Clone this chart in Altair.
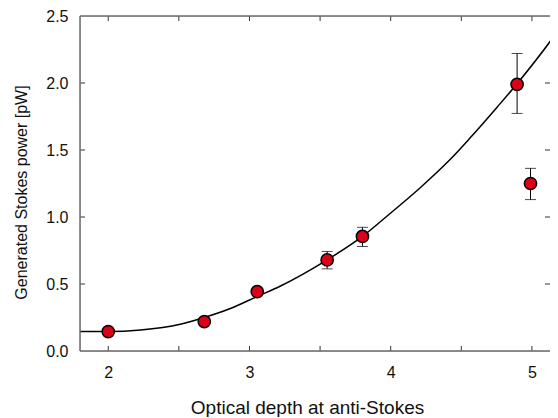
import altair as alt
import pandas as pd

# measured points
pt_x = [2.00, 2.68, 3.055, 3.55, 3.80, 4.895, 4.99]
pt_y = [0.145, 0.22, 0.443, 0.68, 0.855, 1.99, 1.25]

# error bars (only where visible)
err_x = [3.55, 3.80, 4.895, 4.99]
err_lo = [0.613, 0.780, 1.773, 1.13]
err_hi = [0.743, 0.923, 2.22, 1.363]

# fitted curve
curve_x = [1.80, 2.00, 2.23, 2.51, 2.68, 2.86, 3.05, 3.22, 3.55, 3.80, 4.00, 4.205, 4.417, 4.558, 4.758, 4.895, 5.17, 5.20]
curve_y = [0.145, 0.145, 0.157, 0.20, 0.25, 0.315, 0.405, 0.485, 0.68, 0.855, 1.03, 1.215, 1.425, 1.585, 1.825, 1.995, 2.37, 2.415]

x_labels = [2, 3, 4, 5]
y_labels = [0.0, 0.5, 1.0, 1.5, 2.0, 2.5]
x_ticks = [2.0, 2.5, 3.0, 3.5, 4.0, 4.5, 5.0]
y_ticks = [0.5, 1.0, 1.5, 2.0]
x_domain = [1.8, 5.128]
y_domain = [0, 2.5]

W, H = 470, 335
FONT = "Liberation Sans"

pts = pd.DataFrame({"x": pt_x, "y": pt_y})
err = pd.DataFrame({"x": err_x, "lo": err_lo, "hi": err_hi})
cur = pd.DataFrame({"x": curve_x, "y": curve_y})
xt = pd.DataFrame({"t": x_ticks})
yt = pd.DataFrame({"t": y_ticks})
frame = pd.DataFrame({"k": [0]})

xscale = alt.Scale(domain=x_domain, nice=False, zero=False)
yscale = alt.Scale(domain=y_domain, nice=False, zero=False)

xaxis = alt.Axis(values=x_labels, format="d", title="Optical depth at anti-Stokes",
                 ticks=False, domain=False, grid=False, labelFontSize=16,
                 titleFontSize=19, titleFontWeight="normal", labelPadding=13,
                 titleX=227, titleY=62, titleBaseline="alphabetic", titleAlign="center",
                 labelColor="#111", titleColor="#111", labelFont=FONT, titleFont=FONT)
yaxis = alt.Axis(values=y_labels, format=".1f", title="Generated Stokes power [pW]",
                 ticks=False, domain=False, grid=False, labelFontSize=16,
                 titleFontSize=16, titleFontWeight="normal", labelPadding=12,
                 titlePadding=16, titleY=176, titleAlign="center",
                 labelColor="#111", titleColor="#111", labelFont=FONT, titleFont=FONT)


def X(f):
    return alt.X(f, scale=xscale, axis=xaxis)


def Y(f):
    return alt.Y(f, scale=yscale, axis=yaxis)


curve = alt.Chart(cur).mark_line(color="black", strokeWidth=1.5, interpolate="monotone", clip=True).encode(
    x=X("x:Q"), y=Y("y:Q"))

bars = alt.Chart(err).mark_rule(color="black", strokeWidth=1).encode(
    x=X("x:Q"), y=Y("lo:Q"), y2="hi:Q")
cap_lo = alt.Chart(err).mark_tick(color="black", orient="horizontal", size=11, thickness=1).encode(
    x=X("x:Q"), y=Y("lo:Q"))
cap_hi = alt.Chart(err).mark_tick(color="black", orient="horizontal", size=11, thickness=1).encode(
    x=X("x:Q"), y=Y("hi:Q"))

points = alt.Chart(pts).mark_point(shape="circle", filled=True, fill="#dc0018", stroke="black",
                                   strokeWidth=1.5, size=150, opacity=1).encode(
    x=X("x:Q"), y=Y("y:Q"))

TL = 5
TC = "#333"
tb = alt.Chart(xt).mark_rule(color=TC, strokeWidth=1).encode(
    x=X("t:Q"), y=alt.value(H), y2=alt.value(H - TL))
tt = alt.Chart(xt).mark_rule(color=TC, strokeWidth=1).encode(
    x=X("t:Q"), y=alt.value(0), y2=alt.value(TL))
tl = alt.Chart(yt).mark_rule(color=TC, strokeWidth=1).encode(
    y=Y("t:Q"), x=alt.value(0), x2=alt.value(TL))
tr = alt.Chart(yt).mark_rule(color=TC, strokeWidth=1).encode(
    y=Y("t:Q"), x=alt.value(W), x2=alt.value(W - TL))

FC = "#6a6a6a"
f_left = alt.Chart(frame).mark_rule(color=FC, strokeWidth=1.5).encode(
    x=alt.value(0), y=alt.value(0), y2=alt.value(H))
f_bottom = alt.Chart(frame).mark_rule(color=FC, strokeWidth=1.5).encode(
    x=alt.value(0), x2=alt.value(W), y=alt.value(H))
f_top = alt.Chart(frame).mark_rule(color=FC, strokeWidth=1.5).encode(
    x=alt.value(0), x2=alt.value(W), y=alt.value(0))

chart = alt.layer(curve, bars, cap_lo, cap_hi, points, tb, tt, tl, tr, f_left, f_bottom, f_top).properties(
    width=W, height=H,
    autosize=alt.AutoSizeParams(type="none"),
    padding={"left": 72, "top": 8, "right": 0, "bottom": 66},
).configure_view(stroke=None).configure(font=FONT)

chart.save("out.html", embed_options={"renderer": "svg", "actions": False})
